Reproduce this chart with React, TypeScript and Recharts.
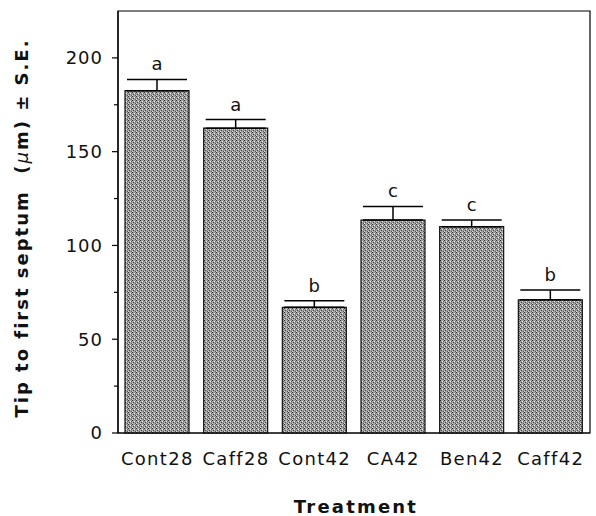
import { Bar, BarChart, XAxis, YAxis, ErrorBar, LabelList, Label, ReferenceArea } from 'recharts';

const treatments = ['Cont28', 'Caff28', 'Cont42', 'CA42', 'Ben42', 'Caff42'];
const means = [182.5, 162.5, 67, 113.5, 110, 71];
const errors = [6, 4.6, 3.5, 7.3, 3.6, 5.3];
const groups = ['a', 'a', 'b', 'c', 'c', 'b'];
const yTicks = [0, 25, 50, 75, 100, 125, 150, 175, 200];

const data = treatments.map((t, i) => ({
  name: t,
  mean: means[i],
  err: [0, errors[i]],
  cap: errors[i],
  group: groups[i],
}));

const font = '"DejaVu Sans", Verdana, sans-serif';

function YTick(props: any) {
  const { x, y, payload } = props;
  const major = payload.value % 50 === 0;
  return (
    <g>
      <line x1={x - (major ? 6 : 4)} x2={x} y1={y} y2={y} stroke="#000" strokeWidth={1.2} />
      {major && (
        <text x={x - 15} y={y} dy="0.36em" textAnchor="end" fontSize={18} fontFamily={font} letterSpacing={1} fill="#111">
          {payload.value}
        </text>
      )}
    </g>
  );
}

export default function App() {
  return (
    <div style={{ position: 'absolute', left: 0, top: 0, background: '#fff' }}>
      <BarChart width={596} height={516} data={data} margin={{ top: 11, right: 6, bottom: 53, left: 0 }} barSize={64}>
        <defs>
          <pattern id="stipple" width="4" height="4" patternUnits="userSpaceOnUse">
            <rect width="4" height="4" fill="#a2a2a2" />
            <rect x="0" y="0" width="1" height="1" fill="#333" />
            <rect x="2" y="1" width="1" height="1" fill="#ececec" />
            <rect x="1" y="2" width="1" height="1" fill="#444" />
            <rect x="3" y="3" width="1" height="1" fill="#555" />
            <rect x="3" y="1" width="1" height="1" fill="#6a6a6a" />
            <rect x="0" y="3" width="1" height="1" fill="#dcdcdc" />
          </pattern>
        </defs>
        <XAxis
          dataKey="name"
          height={30}
          tickLine={false}
          tickSize={0}
          tickMargin={19}
          axisLine={{ stroke: '#000', strokeWidth: 1.2 }}
          tick={{ fontSize: 18, fontFamily: font, fill: '#111', letterSpacing: 1.3 }}
          interval={0}
        >
          <Label
            content={() => (
              <text x={356} y={513} textAnchor="middle" fontSize={18} fontWeight="bold" fontFamily={font} letterSpacing={2.2} fill="#111">
                Treatment
              </text>
            )}
          />
        </XAxis>
        <YAxis
          domain={[0, 225]}
          ticks={yTicks}
          width={118}
          tickSize={0}
          tickMargin={0}
          tickLine={false}
          axisLine={{ stroke: '#000', strokeWidth: 1.2 }}
          tick={<YTick />}
          interval={0}
        >
          <Label
            content={() => (
              <text
                x={22}
                y={228}
                transform="rotate(-90 22 228)"
                dy="0.36em"
                textAnchor="middle"
                fontSize={18}
                fontWeight="bold"
                fontFamily={font}
                letterSpacing={2}
                fill="#111"
                style={{ whiteSpace: 'pre' }}
              >
                {'Tip to first septum  ('}
                <tspan fontStyle="italic" fontWeight="normal">μ</tspan>
                {'m) ± S.E.'}
              </text>
            )}
          />
        </YAxis>
        <ReferenceArea y1={0} y2={225} fill="none" stroke="#000" strokeWidth={1.2} ifOverflow="visible" />
        <Bar dataKey="mean" stackId="s" fill="url(#stipple)" stroke="#111" strokeWidth={1.2} isAnimationActive={false}>
          <ErrorBar dataKey="err" width={30} stroke="#000" strokeWidth={1.5} direction="y" />
        </Bar>
        <Bar dataKey="cap" stackId="s" fill="none" stroke="none" isAnimationActive={false}>
          <LabelList dataKey="group" position="top" offset={9} fontSize={18} fontFamily={font} fill="#111" />
        </Bar>
      </BarChart>
    </div>
  );
}
